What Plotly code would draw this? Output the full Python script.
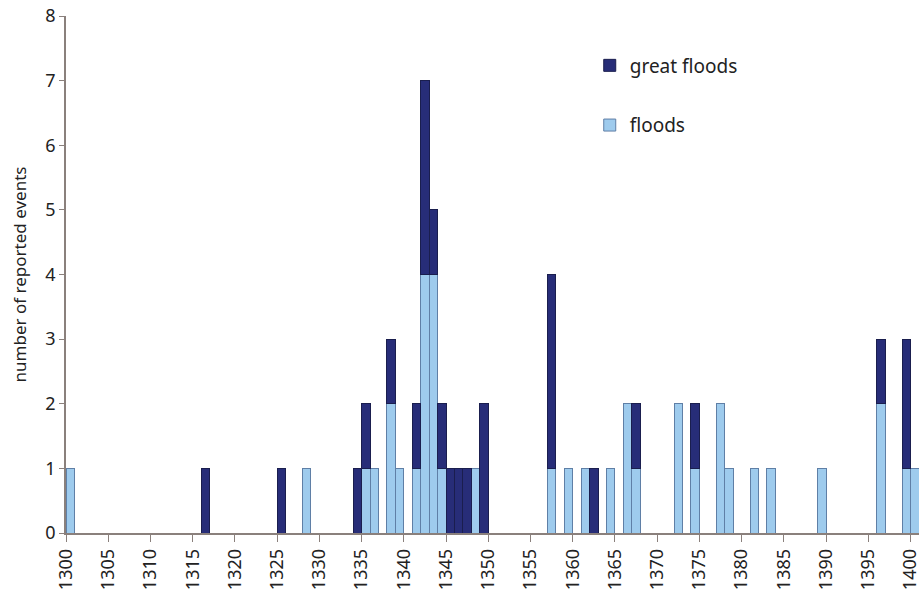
import plotly.graph_objects as go

years = [1300, 1316, 1325, 1328, 1334, 1335, 1336, 1338, 1339, 1341, 1342, 1343,
         1344, 1345, 1346, 1347, 1348, 1349, 1357, 1359, 1361, 1362, 1364, 1366,
         1367, 1372, 1374, 1377, 1378, 1381, 1383, 1389, 1396, 1399, 1400]
floods = [1, 0, 0, 1, 0, 1, 1, 2, 1, 1, 4, 4,
          1, 0, 0, 0, 1, 0, 1, 1, 1, 0, 1, 2,
          1, 2, 1, 2, 1, 1, 1, 1, 2, 1, 1]
great_floods = [0, 1, 1, 0, 1, 1, 0, 1, 0, 1, 3, 1,
                1, 1, 1, 1, 0, 2, 3, 0, 0, 1, 0, 0,
                1, 0, 1, 0, 0, 0, 0, 0, 1, 2, 0]
tick_years = list(range(1300, 1401, 5))

def nz(vals):
    return [v if v else None for v in vals]

FONT = "Noto Sans"
AXIS_COLOR = "#8a807c"

fig = go.Figure()
fig.add_trace(go.Bar(
    x=years, y=nz(floods), name="floods", width=1, offset=0,
    marker=dict(color="#9ecbed", line=dict(color="#5f7fa6", width=1)),
    legendgroup="b", legendrank=2,
))
fig.add_trace(go.Bar(
    x=years, y=nz(great_floods), name="great floods", width=1, offset=0,
    marker=dict(color="#272d78", line=dict(color="#1a1e4e", width=1)),
    legendgroup="a", legendrank=1,
))

fig.update_layout(
    width=924, height=594,
    barmode="stack",
    paper_bgcolor="white", plot_bgcolor="white",
    margin=dict(l=66, r=5, t=16, b=61),
    font=dict(family=FONT, size=16, color="#222222"),
    legend=dict(x=0.614, y=0.941, xanchor="left", yanchor="top",
                traceorder="grouped", tracegroupgap=32,
                font=dict(size=19), itemwidth=30, bgcolor="rgba(0,0,0,0)"),
    xaxis=dict(range=[1300, 1401], tickvals=tick_years,
               ticktext=[str(t) for t in tick_years], tickangle=-90,
               ticks="outside", ticklen=7, tickcolor=AXIS_COLOR,
               showline=True, linecolor=AXIS_COLOR, linewidth=1.5,
               showgrid=False, zeroline=False, tickfont=dict(size=18),
               automargin=False, ticklabeloverflow="allow"),
    yaxis=dict(range=[0, 8], dtick=1, ticks="outside", ticklen=5,
               tickcolor=AXIS_COLOR, showline=True, linecolor=AXIS_COLOR,
               linewidth=1.5, showgrid=False, zeroline=False,
               tickfont=dict(size=18), automargin=False,
               ticklabeloverflow="allow",
               title=dict(text="number of reported events", font=dict(size=17),
                          standoff=14)),
)

# remove the browser's default 8px body margin so the 924x594 figure fills the window
fig.write_html("out.html",
               config={"displayModeBar": False},
               post_script="document.body.style.margin='0';document.body.style.overflow='hidden';")
